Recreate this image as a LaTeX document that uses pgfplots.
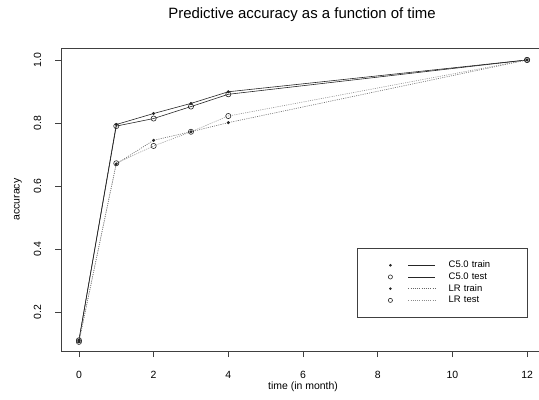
\documentclass[border=0pt]{standalone}
\usepackage{fontspec}
\setmainfont{Liberation Sans}
\usepackage{pgfplots}
\pgfplotsset{compat=1.18}
\begin{document}
\begin{tikzpicture}
\begin{axis}[
  at={(61bp,49bp)}, anchor=south west,
  scale only axis, width=484bp, height=303bp,
  xmin=-0.48, xmax=12.48, ymin=0.076, ymax=1.038,
  xtick={0,2,4,6,8,10,12},
  ytick={0.2,0.4,0.6,0.8,1.0},
  yticklabels={0.2,0.4,0.6,0.8,1.0},
  tick pos=left, tick align=outside, major tick length=6bp,
  axis line style={black!75, line width=0.6bp},
  tick style={black!75, line width=0.6bp},
  /pgf/number format/assume math mode=true,
  ticklabel style={font=\fontsize{10.5}{12}\selectfont, inner sep=1bp},
  xticklabel style={anchor=base, yshift=-21bp},
  yticklabel style={xshift=-14bp, rotate=90, anchor=base},
  title={Predictive accuracy as a function of time},
  title style={at={(0.498,1.0760)}, anchor=base, inner sep=0pt, font=\fontsize{15}{17}\selectfont},
  xlabel={time (in month)},
  xlabel style={at={(0.5,-0.128)}, anchor=base, inner sep=0pt, font=\fontsize{10.5}{12}\selectfont},
  ylabel={accuracy},
  ylabel style={at={(-0.089,0.5)}, anchor=center, rotate=0, inner sep=0pt, font=\fontsize{10.5}{12}\selectfont},
  legend image code/.code={
    \draw[#1] (18bp,0bp) -- (45bp,0bp);
    \draw[#1, mark size=0.8*\pgfplotmarksize] plot[only marks] coordinates {(0bp,0bp)};
  },
  legend style={at={(0.6116,0.340)}, anchor=north west, draw=black!75,
    line width=0.6bp, fill=white, inner xsep=31bp, inner ysep=11.5bp,
    font=\fontsize{9.5}{11}\selectfont, row sep=0.7bp, column sep=12bp,
    nodes={inner sep=1bp, text height=7bp, text depth=2bp, text width=47bp}},
  legend cell align=left,
]
\addplot[black!85, line width=0.6bp, mark=*, mark size=1.2bp, mark options={solid}]
  coordinates {(0,0.110) (1,0.795) (2,0.830) (3,0.862) (4,0.899) (12,1.000)};
\addlegendentry{C5.0 train}
\addplot[black!85, line width=0.6bp, mark=o, mark size=2.6bp, mark options={solid}]
  coordinates {(0,0.110) (1,0.790) (2,0.814) (3,0.852) (4,0.891) (12,1.000)};
\addlegendentry{C5.0 test}
\addplot[black!60, line width=0.6bp, dash pattern=on 1bp off 1.2bp, mark=*, mark size=1.2bp, mark options={solid, black!85}]
  coordinates {(0,0.105) (1,0.670) (2,0.745) (3,0.772) (4,0.801) (12,1.000)};
\addlegendentry{LR train}
\addplot[black!45, line width=0.6bp, dash pattern=on 1bp off 1.2bp, mark=o, mark size=2.6bp, mark options={solid, black!85}]
  coordinates {(0,0.105) (1,0.672) (2,0.727) (3,0.772) (4,0.822) (12,1.000)};
\addlegendentry{LR test}
\end{axis}
\pgfresetboundingbox
\useasboundingbox (0bp,0bp) rectangle (539bp,400bp);
\end{tikzpicture}
\end{document}
